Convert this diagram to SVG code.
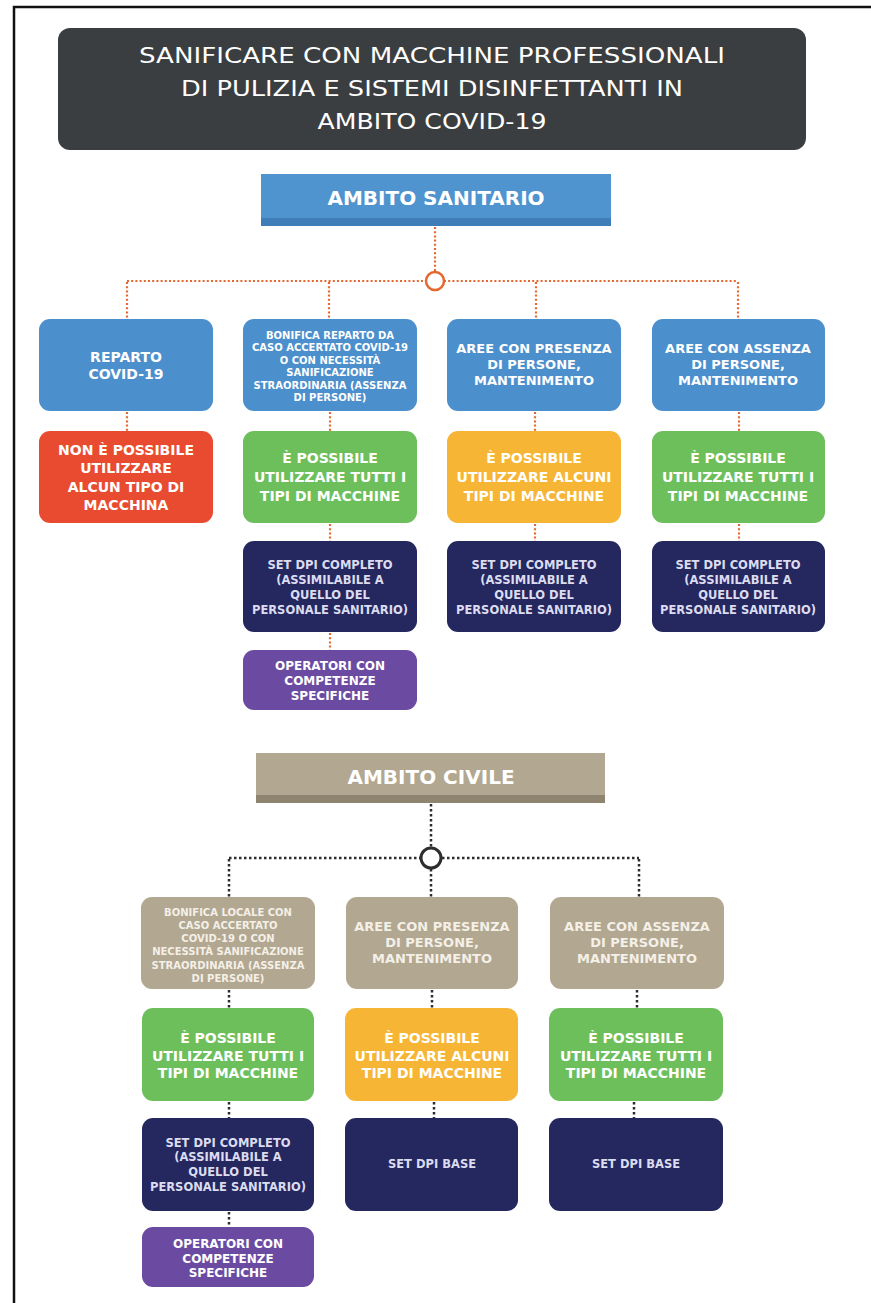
<svg xmlns="http://www.w3.org/2000/svg" width="871" height="1303" viewBox="0 0 871 1303">
<style>
.t{font-family:"DejaVu Sans","Liberation Sans",sans-serif;font-weight:bold;fill:#ffffff;text-anchor:middle}
.title{font-family:"DejaVu Sans","Liberation Sans",sans-serif;font-weight:normal;fill:#ffffff;text-anchor:middle;font-size:21px}
.f14{font-size:14px}.f13{font-size:13px}.f12{font-size:12px}.f115{font-size:11.5px}.f10{font-size:10px}.f20{font-size:20px}
.blue{fill:#4b8fcd}.red{fill:#e94b30}.green{fill:#6dbf5c}.yellow{fill:#f7b536}.navy{fill:#25275f}.purple{fill:#6b4ba2}.tan{fill:#b2a790}
.ctan{fill:#f4f0e8}.cnavy{fill:#dcdcf0}
.oc{stroke:#e4672f;stroke-width:2.2;stroke-dasharray:2 2.2;fill:none}
.bc{stroke:#2d2d2d;stroke-width:2.5;stroke-dasharray:2.5 2.5;fill:none}
</style>
<rect x="0" y="0" width="871" height="1303" fill="#ffffff"/>
<path d="M14,1303 V7 H871" fill="none" stroke="#111" stroke-width="2.5"/>

<g id="header">
<rect x="58" y="28" width="748" height="122" rx="12" fill="#3b3e40"/>
<text class="title" x="432" y="63" textLength="586" lengthAdjust="spacingAndGlyphs">SANIFICARE CON MACCHINE PROFESSIONALI</text>
<text class="title" x="432" y="96" textLength="502" lengthAdjust="spacingAndGlyphs">DI PULIZIA E SISTEMI DISINFETTANTI IN</text>
<text class="title" x="432" y="129" textLength="229" lengthAdjust="spacingAndGlyphs">AMBITO COVID-19</text>
</g>

<g id="connectors">
<line class="oc" x1="435" y1="227" x2="435" y2="271"/>
<line class="oc" x1="127" y1="281" x2="426" y2="281"/>
<line class="oc" x1="444" y1="281" x2="738" y2="281"/>
<line class="oc" x1="127" y1="282" x2="127" y2="319"/>
<line class="oc" x1="329" y1="282" x2="329" y2="319"/>
<line class="oc" x1="536" y1="282" x2="536" y2="319"/>
<line class="oc" x1="738" y1="282" x2="738" y2="319"/>
<circle cx="435" cy="281" r="9" fill="#ffffff" stroke="#e4672f" stroke-width="2.5"/>
<line class="oc" x1="127" y1="412" x2="127" y2="431"/>
<line class="oc" x1="330" y1="412" x2="330" y2="431"/>
<line class="oc" x1="535" y1="412" x2="535" y2="431"/>
<line class="oc" x1="739" y1="412" x2="739" y2="431"/>
<line class="oc" x1="330" y1="524" x2="330" y2="541"/>
<line class="oc" x1="535" y1="524" x2="535" y2="541"/>
<line class="oc" x1="739" y1="524" x2="739" y2="541"/>
<line class="oc" x1="330" y1="633" x2="330" y2="650"/>
<line class="bc" x1="431" y1="804" x2="431" y2="847"/>
<line class="bc" x1="229" y1="858" x2="420" y2="858"/>
<line class="bc" x1="442" y1="858" x2="639" y2="858"/>
<line class="bc" x1="229" y1="859" x2="229" y2="897"/>
<line class="bc" x1="431" y1="869" x2="431" y2="897"/>
<line class="bc" x1="639" y1="859" x2="639" y2="897"/>
<circle cx="431" cy="858" r="10" fill="#ffffff" stroke="#2d2d2d" stroke-width="3"/>
<line class="bc" x1="229" y1="990" x2="229" y2="1008"/>
<line class="bc" x1="432" y1="990" x2="432" y2="1008"/>
<line class="bc" x1="637" y1="990" x2="637" y2="1008"/>
<line class="bc" x1="229" y1="1102" x2="229" y2="1118"/>
<line class="bc" x1="434" y1="1102" x2="434" y2="1118"/>
<line class="bc" x1="634" y1="1102" x2="634" y2="1118"/>
<line class="bc" x1="229" y1="1212" x2="229" y2="1227"/>
</g>

<g id="ambito-sanitario">
<rect x="261" y="174" width="350" height="52" fill="#4f93cf"/>
<rect x="261" y="218" width="350" height="8" fill="#3f7db8"/>
<text class="t f20" x="436" y="205">AMBITO SANITARIO</text>
</g>

<g id="s-reparto">
<rect class="blue" x="39" y="319" width="174" height="92" rx="11"/>
<text class="t f14" x="126" y="362">REPARTO</text>
<text class="t f14" x="126" y="379">COVID-19</text>
</g>
<g id="s-bonifica">
<rect class="blue" x="243" y="319" width="174" height="92" rx="11"/>
<text class="t f10" x="330" y="339">BONIFICA REPARTO DA</text>
<text class="t f10" x="330" y="351">CASO ACCERTATO COVID-19</text>
<text class="t f10" x="330" y="364">O CON NECESSITÀ</text>
<text class="t f10" x="330" y="376">SANIFICAZIONE</text>
<text class="t f10" x="330" y="389">STRAORDINARIA (ASSENZA</text>
<text class="t f10" x="330" y="401">DI PERSONE)</text>
</g>
<g id="s-presenza">
<rect class="blue" x="447" y="319" width="174" height="92" rx="11"/>
<text class="t f13" x="534" y="353">AREE CON PRESENZA</text>
<text class="t f13" x="534" y="369">DI PERSONE,</text>
<text class="t f13" x="534" y="385">MANTENIMENTO</text>
</g>
<g id="s-assenza">
<rect class="blue" x="652" y="319" width="173" height="92" rx="11"/>
<text class="t f13" x="738" y="353">AREE CON ASSENZA</text>
<text class="t f13" x="738" y="369">DI PERSONE,</text>
<text class="t f13" x="738" y="385">MANTENIMENTO</text>
</g>

<g id="s-non-possibile">
<rect class="red" x="39" y="431" width="174" height="92" rx="11"/>
<text class="t f14" x="126" y="455">NON È POSSIBILE</text>
<text class="t f14" x="126" y="473">UTILIZZARE</text>
<text class="t f14" x="126" y="492">ALCUN TIPO DI</text>
<text class="t f14" x="126" y="510">MACCHINA</text>
</g>
<g id="s-tutti-1">
<rect class="green" x="243" y="431" width="174" height="92" rx="11"/>
<text class="t f14" x="330" y="463">È POSSIBILE</text>
<text class="t f14" x="330" y="482">UTILIZZARE TUTTI I</text>
<text class="t f14" x="330" y="501">TIPI DI MACCHINE</text>
</g>
<g id="s-alcuni">
<rect class="yellow" x="447" y="431" width="174" height="92" rx="11"/>
<text class="t f14" x="534" y="463">È POSSIBILE</text>
<text class="t f14" x="534" y="482">UTILIZZARE ALCUNI</text>
<text class="t f14" x="534" y="501">TIPI DI MACCHINE</text>
</g>
<g id="s-tutti-2">
<rect class="green" x="652" y="431" width="173" height="92" rx="11"/>
<text class="t f14" x="738" y="463">È POSSIBILE</text>
<text class="t f14" x="738" y="482">UTILIZZARE TUTTI I</text>
<text class="t f14" x="738" y="501">TIPI DI MACCHINE</text>
</g>

<g id="s-dpi-1">
<rect class="navy" x="243" y="541" width="174" height="91" rx="11"/>
<text class="t f115 cnavy" x="330" y="569">SET DPI COMPLETO</text>
<text class="t f115 cnavy" x="330" y="584">(ASSIMILABILE A</text>
<text class="t f115 cnavy" x="330" y="599">QUELLO DEL</text>
<text class="t f115 cnavy" x="330" y="614">PERSONALE SANITARIO)</text>
</g>
<g id="s-dpi-2">
<rect class="navy" x="447" y="541" width="174" height="91" rx="11"/>
<text class="t f115 cnavy" x="534" y="569">SET DPI COMPLETO</text>
<text class="t f115 cnavy" x="534" y="584">(ASSIMILABILE A</text>
<text class="t f115 cnavy" x="534" y="599">QUELLO DEL</text>
<text class="t f115 cnavy" x="534" y="614">PERSONALE SANITARIO)</text>
</g>
<g id="s-dpi-3">
<rect class="navy" x="652" y="541" width="173" height="91" rx="11"/>
<text class="t f115 cnavy" x="738" y="569">SET DPI COMPLETO</text>
<text class="t f115 cnavy" x="738" y="584">(ASSIMILABILE A</text>
<text class="t f115 cnavy" x="738" y="599">QUELLO DEL</text>
<text class="t f115 cnavy" x="738" y="614">PERSONALE SANITARIO)</text>
</g>
<g id="s-operatori">
<rect class="purple" x="243" y="650" width="174" height="60" rx="11"/>
<text class="t f12" x="330" y="670">OPERATORI CON</text>
<text class="t f12" x="330" y="685">COMPETENZE</text>
<text class="t f12" x="330" y="700">SPECIFICHE</text>
</g>

<g id="ambito-civile">
<rect x="256" y="753" width="349" height="50" fill="#b2a790"/>
<rect x="256" y="795" width="349" height="8" fill="#8e846f"/>
<text class="t f20" x="431" y="784">AMBITO CIVILE</text>
</g>

<g id="c-bonifica">
<rect class="tan" x="141" y="897" width="174" height="92" rx="11"/>
<text class="t f10 ctan" x="228" y="916">BONIFICA LOCALE CON</text>
<text class="t f10 ctan" x="228" y="929">CASO ACCERTATO</text>
<text class="t f10 ctan" x="228" y="942">COVID-19 O CON</text>
<text class="t f10 ctan" x="228" y="955">NECESSITÀ SANIFICAZIONE</text>
<text class="t f10 ctan" x="228" y="969">STRAORDINARIA (ASSENZA</text>
<text class="t f10 ctan" x="228" y="982">DI PERSONE)</text>
</g>
<g id="c-presenza">
<rect class="tan" x="346" y="897" width="172" height="92" rx="11"/>
<text class="t f13 ctan" x="432" y="931">AREE CON PRESENZA</text>
<text class="t f13 ctan" x="432" y="947">DI PERSONE,</text>
<text class="t f13 ctan" x="432" y="963">MANTENIMENTO</text>
</g>
<g id="c-assenza">
<rect class="tan" x="550" y="897" width="174" height="92" rx="11"/>
<text class="t f13 ctan" x="637" y="931">AREE CON ASSENZA</text>
<text class="t f13 ctan" x="637" y="947">DI PERSONE,</text>
<text class="t f13 ctan" x="637" y="963">MANTENIMENTO</text>
</g>

<g id="c-tutti-1">
<rect class="green" x="142" y="1008" width="172" height="93" rx="11"/>
<text class="t f14" x="228" y="1043">È POSSIBILE</text>
<text class="t f14" x="228" y="1061">UTILIZZARE TUTTI I</text>
<text class="t f14" x="228" y="1078">TIPI DI MACCHINE</text>
</g>
<g id="c-alcuni">
<rect class="yellow" x="345" y="1008" width="173" height="93" rx="11"/>
<text class="t f14" x="432" y="1043">È POSSIBILE</text>
<text class="t f14" x="432" y="1061">UTILIZZARE ALCUNI</text>
<text class="t f14" x="432" y="1078">TIPI DI MACCHINE</text>
</g>
<g id="c-tutti-2">
<rect class="green" x="549" y="1008" width="174" height="93" rx="11"/>
<text class="t f14" x="636" y="1043">È POSSIBILE</text>
<text class="t f14" x="636" y="1061">UTILIZZARE TUTTI I</text>
<text class="t f14" x="636" y="1078">TIPI DI MACCHINE</text>
</g>

<g id="c-dpi-completo">
<rect class="navy" x="142" y="1118" width="172" height="93" rx="11"/>
<text class="t f115 cnavy" x="228" y="1147">SET DPI COMPLETO</text>
<text class="t f115 cnavy" x="228" y="1161">(ASSIMILABILE A</text>
<text class="t f115 cnavy" x="228" y="1176">QUELLO DEL</text>
<text class="t f115 cnavy" x="228" y="1191">PERSONALE SANITARIO)</text>
</g>
<g id="c-dpi-base-1">
<rect class="navy" x="345" y="1118" width="173" height="93" rx="11"/>
<text class="t f115 cnavy" x="432" y="1168">SET DPI BASE</text>
</g>
<g id="c-dpi-base-2">
<rect class="navy" x="549" y="1118" width="174" height="93" rx="11"/>
<text class="t f115 cnavy" x="636" y="1168">SET DPI BASE</text>
</g>
<g id="c-operatori">
<rect class="purple" x="142" y="1227" width="172" height="60" rx="11"/>
<text class="t f12" x="228" y="1248">OPERATORI CON</text>
<text class="t f12" x="228" y="1263">COMPETENZE</text>
<text class="t f12" x="228" y="1277">SPECIFICHE</text>
</g>
</svg>
